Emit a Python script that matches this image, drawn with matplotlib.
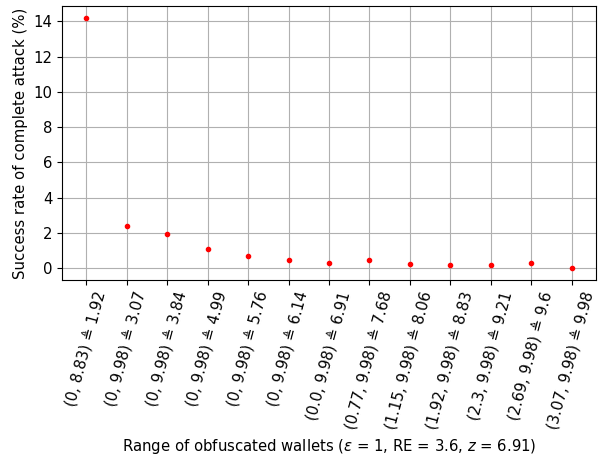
import matplotlib
matplotlib.use("Agg")
import matplotlib.pyplot as plt

ranges = ["(0, 8.83) \u225c 1.92", "(0, 9.98) \u225c 3.07", "(0, 9.98) \u225c 3.84",
          "(0, 9.98) \u225c 4.99", "(0, 9.98) \u225c 5.76", "(0, 9.98) \u225c 6.14",
          "(0.0, 9.98) \u225c 6.91", "(0.77, 9.98) \u225c 7.68", "(1.15, 9.98) \u225c 8.06",
          "(1.92, 9.98) \u225c 8.83", "(2.3, 9.98) \u225c 9.21", "(2.69, 9.98) \u225c 9.6",
          "(3.07, 9.98) \u225c 9.98"]
success = [14.16, 2.40, 1.93, 1.08, 0.70, 0.47, 0.30, 0.45, 0.23, 0.17, 0.17, 0.26, 0.03]

plt.rcParams["font.size"] = 10.7

fig, ax = plt.subplots(figsize=(5.99, 4.59), dpi=100)
fig.subplots_adjust(left=62/599, right=596/599, top=1-6/459, bottom=1-280/459)
ax.scatter(range(len(ranges)), success, s=9, color="red", zorder=3)
ax.set_xticks(range(len(ranges)))
ax.set_xticklabels(ranges, rotation=75)
ax.grid(True)
ax.set_axisbelow(True)
ax.set_ylabel("Success rate of complete attack (%)")
ax.set_xlabel(r"Range of obfuscated wallets ($\varepsilon$ = 1, RE = 3.6, $z$ = 6.91)")
fig.savefig("out.png")
